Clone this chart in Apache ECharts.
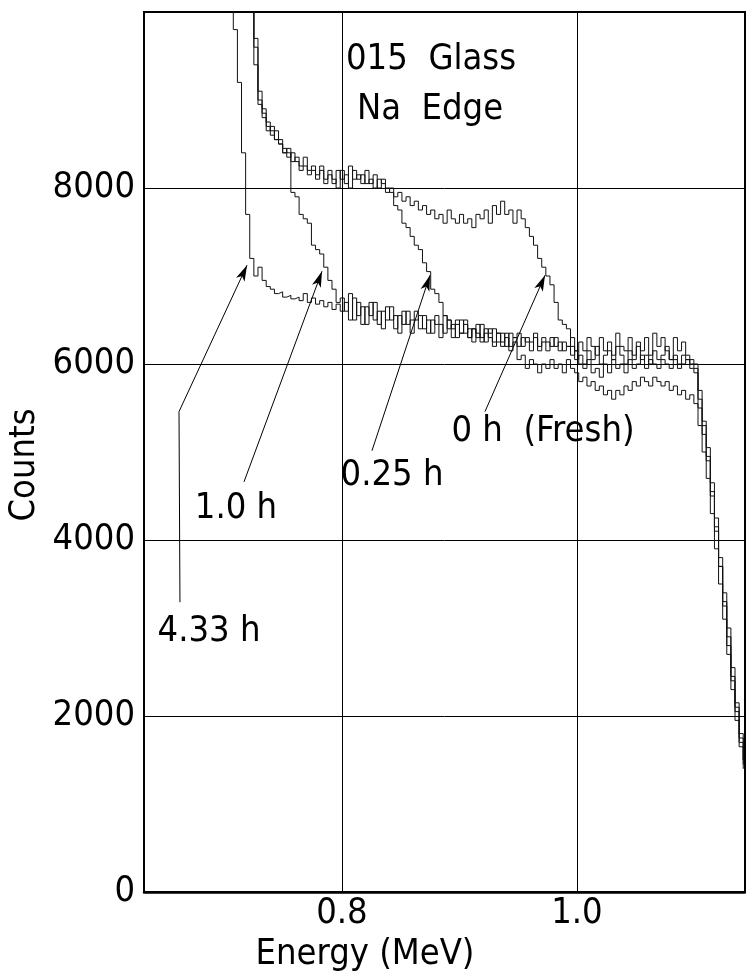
<!DOCTYPE html>
<html>
<head>
<meta charset="utf-8">
<script src="https://cdn.jsdelivr.net/npm/echarts@6/dist/echarts.min.js"></script>
<style>
html,body{margin:0;padding:0;background:#fff;}
#chart{width:746px;height:977px;}
</style>
</head>
<body>
<div id="chart"></div>
<script>
// Histogram bins (MeV): first bin left edge and bin width
const binStart = 0.690;
const binWidth = 0.0035;

// Counts per bin (values above 10000 are off-scale / clipped)
const counts_4_33h = [
12000,12000,12000,12000,12000,9800,9200,8400,7700,7200,
7000,7100,6950,6880,6850,6800,6820,6760,6780,6740,
6760,6720,6800,6700,6750,6680,6720,6650,6700,6620,
6680,6600,6700,6500,6750,6550,6650,6450,6700,6500,
6600,6400,6650,6500,6550,6350,6600,6450,6500,6600,
6400,6550,6350,6500,6450,6300,6550,6400,6450,6300,
6500,6350,6400,6250,6450,6300,6350,6400,6250,6350,
6200,6300,6150,6250,6050,6100,5950,6050,6000,5900,
6000,5950,6050,5950,6000,5900,6050,5950,5900,5800,
5850,5750,5800,5700,5750,5650,5700,5600,5700,5650,
5750,5700,5800,5750,5850,5800,5750,5850,5800,5750,
5800,5700,5750,5650,5700,5600,5650,5550,5300,5000,
4700,4300,3900,3500,3100,2700,2300,1950,1650,1400];

const counts_1_0h = [
12000,12000,12000,12000,12000,12000,12000,12000,12000,10400,
9400,8950,8800,8650,8700,8550,8500,8400,8400,7950,
7900,7700,7650,7600,7350,7300,7250,7100,6950,6850,
6700,6750,6600,6800,6500,6700,6450,6650,6550,6700,
6450,6600,6500,6650,6400,6550,6450,6600,6350,6500,
6550,6400,6500,6350,6550,6450,6350,6500,6300,6450,
6350,6500,6300,6400,6300,6450,6250,6350,6400,6250,
6350,6200,6350,6300,6200,6300,6250,6150,6300,6200,
6250,6150,6300,6200,6250,6150,6200,6100,6150,6000,
5950,6050,5900,5950,5850,6000,5900,6050,5950,6000,
5900,6050,5950,6000,6100,5950,6050,6000,5950,6050,
6000,5950,6050,5950,6000,6050,5950,5900,5500,5200,
4900,4500,4100,3700,3300,2900,2450,2100,1750,1500];

const counts_0_25h = [
12000,12000,12000,12000,12000,12000,12000,12000,12000,10600,
9600,9000,8850,8700,8600,8650,8500,8450,8350,8400,
8300,8250,8350,8200,8250,8150,8200,8100,8150,8050,
8200,8100,8150,8000,8200,8100,8150,8050,8100,8000,
8100,8050,7950,8000,7800,7750,7600,7550,7450,7350,
7300,7150,7050,6850,6800,6700,6550,6500,6400,6500,
6350,6450,6300,6400,6350,6250,6400,6300,6200,6350,
6250,6350,6200,6300,6350,6200,6300,6250,6350,6150,
6300,6250,6200,6300,6150,6250,6200,6300,6150,6250,
6150,6300,6200,6100,6300,6150,6250,6100,6350,6200,
6150,6300,6100,6250,6150,6300,6100,6350,6200,6300,
6150,6050,6300,6150,6250,6100,6050,6000,5700,5350,
5050,4650,4250,3800,3400,3000,2550,2150,1800,1500];

const counts_0h = [
12000,12000,12000,12000,12000,12000,12000,12000,12000,10200,
9700,9100,8900,8750,8650,8550,8550,8400,8450,8300,
8350,8200,8250,8150,8200,8100,8250,8050,8200,8100,
8000,8200,8050,8250,8100,8150,8050,8200,8050,8150,
8000,8100,8000,7950,7900,7950,7850,7900,7800,7850,
7750,7800,7700,7750,7650,7700,7600,7750,7650,7600,
7700,7600,7650,7550,7700,7650,7750,7600,7800,7700,
7850,7700,7750,7600,7750,7650,7550,7450,7350,7200,
7100,7000,6900,6700,6500,6450,6400,6200,6050,6100,
6000,6150,6050,6200,6000,6100,6150,6050,6200,6100,
6000,6150,6050,6200,6050,6100,6000,6150,6050,6100,
6200,6050,6100,6000,6100,6050,6000,5950,5600,5300,
4950,4550,4150,3700,3250,2800,2400,2050,1700,1450];

// Axis ticks
const xTicks = [0.8, 1.0];
const yTicks = [0, 2000, 4000, 6000, 8000];

// Annotation labels [energy, counts, text]
const labels = [
  [0.8758, 9459, '015  Glass'],
  [0.8749, 8889, 'Na  Edge'],
  [0.9711, 5231, '0 h  (Fresh)'],
  [0.8426, 4729, '0.25 h'],
  [0.7098, 4353, '1.0 h'],
  [0.6868, 2963, '4.33 h']
];
// Arrows: [fromE, fromCounts, toE, toCounts, hasHead]
const arrows = [
  [0.6621, 3293, 0.6613, 5459, 0],
  [0.6613, 5459, 0.7192, 7123, 1],
  [0.7166, 4661, 0.7830, 7054, 1],
  [0.8255, 5014, 0.8749, 7009, 1],
  [0.9217, 5459, 0.9728, 7009, 1]
];

const FONT = '"Liberation Sans Narrow","DejaVu Sans Condensed","Liberation Sans",sans-serif';
const FS = 36;

function toPairs(arr) {
  return arr.map((v, i) => [+(binStart + binWidth * i).toFixed(4), v]);
}

const histStyle = {
  type: 'line', step: 'end', symbol: 'none', clip: true, silent: true,
  lineStyle: { color: '#111', width: 1 }
};

const chart = echarts.init(document.getElementById('chart'), null, { renderer: 'canvas' });
chart.setOption({
  animation: false,
  backgroundColor: '#fff',
  grid: { left: 144, top: 12, right: 1, bottom: 85, show: true, borderColor: '#000', borderWidth: 2, containLabel: false },
  xAxis: {
    type: 'value', min: 0.6315, max: 1.143,
    axisLine: { show: true, onZero: false, lineStyle: { color: '#000', width: 2.5 } },
    axisTick: { show: false, customValues: xTicks },
    splitLine: { show: false },
    axisLabel: { customValues: xTicks, color: '#000', fontFamily: FONT, fontSize: FS, margin: 4,
      formatter: v => v.toFixed(1) }
  },
  yAxis: {
    type: 'value', min: 0, max: 10000, interval: 2000,
    axisLine: { show: true, lineStyle: { color: '#000', width: 2 } },
    axisTick: { show: false },
    splitLine: { show: true, lineStyle: { color: '#000', width: 1 } },
    axisLabel: { color: '#000', fontFamily: FONT, fontSize: FS, margin: 9, showMaxLabel: false,
      formatter: v => (yTicks.indexOf(v) >= 0 ? String(v) : '') }
  },
  graphic: [
    { type: 'text', x: 25, y: 465, rotation: Math.PI / 2,
      style: { text: 'Counts', fill: '#000', font: FS + 'px ' + FONT, align: 'center', verticalAlign: 'middle' } },
    { type: 'text', x: 365, y: 955,
      style: { text: 'Energy (MeV)', fill: '#000', font: FS + 'px ' + FONT, align: 'center', verticalAlign: 'middle' } }
  ],
  series: [
    Object.assign({ name: '4.33 h', data: toPairs(counts_4_33h) }, histStyle),
    Object.assign({ name: '1.0 h', data: toPairs(counts_1_0h) }, histStyle),
    Object.assign({ name: '0.25 h', data: toPairs(counts_0_25h) }, histStyle),
    Object.assign({ name: '0 h', data: toPairs(counts_0h) }, histStyle),
    {
      type: 'scatter', name: 'notes', symbolSize: 0, silent: true,
      itemStyle: { opacity: 1, color: '#000' },
      data: labels.map(l => ({ value: [l[0], l[1]], text: l[2] })),
      label: { show: true, position: 'inside', color: '#000', opacity: 1, textBorderWidth: 0,
        fontFamily: FONT, fontSize: FS, formatter: p => p.data.text },
      markLine: {
        silent: true, animation: false,
        symbol: ['none', 'none'],
        label: { show: false },
        lineStyle: { color: '#000', width: 1, type: 'solid', opacity: 1 },
        data: xTicks.map(x => ({ xAxis: x, symbol: 'none' })).concat(arrows.map(a => [
          { coord: [a[0], a[1]], symbol: 'none' },
          { coord: [a[2], a[3]], symbol: a[4] ? 'arrow' : 'none', symbolSize: [7, 16] }
        ]))
      }
    }
  ]
});
</script>
</body>
</html>
